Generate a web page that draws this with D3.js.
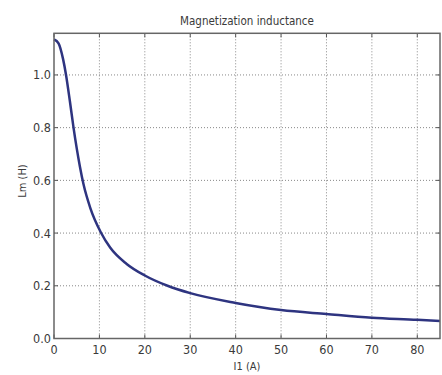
<!DOCTYPE html>
<html><head><meta charset="utf-8">
<script src="https://cdn.jsdelivr.net/npm/d3@7"></script>
<style>
body{margin:0;background:#fff;}
text{font-family:"DejaVu Sans Condensed","Liberation Sans Narrow",sans-serif;fill:#3a3a3a;}
</style></head>
<body><svg id="c" width="442" height="375"></svg>
<script>
const current = [0, 1, 2, 2.65, 3.5, 4.3, 5.7, 6.5, 8, 10.3, 12.4, 16, 20, 25, 30, 40, 50, 60, 70, 80, 85];
const inductance = [1.135, 1.12, 1.06, 1.0, 0.9, 0.8, 0.653, 0.585, 0.495, 0.403, 0.344, 0.283, 0.239, 0.2, 0.172, 0.135, 0.108, 0.093, 0.079, 0.071, 0.066];
const xTicks = [0, 10, 20, 30, 40, 50, 60, 70, 80];
const yTicks = [0, 0.2, 0.4, 0.6, 0.8, 1.0];
const title = "Magnetization inductance";
const xLabel = "I1 (A)";
const yLabel = "Lm (H)";

const L = 54, R = 440, T = 33.3, B = 338.5;
const svg = d3.select("#c");
const x = d3.scaleLinear().domain([0, 85]).range([L, R]);
const y = d3.scaleLinear().domain([0, 1.158]).range([B, T]);

// grid
const g = svg.append("g");
g.selectAll("line.vx").data(xTicks.slice(1)).enter().append("line")
  .attr("x1", d => x(d)).attr("x2", d => x(d)).attr("y1", T).attr("y2", B)
  .attr("stroke", "#888").attr("stroke-width", 1).attr("stroke-dasharray", "1,2");
g.selectAll("line.hy").data(yTicks.slice(1)).enter().append("line")
  .attr("y1", d => y(d)).attr("y2", d => y(d)).attr("x1", L).attr("x2", R)
  .attr("stroke", "#888").attr("stroke-width", 1).attr("stroke-dasharray", "1,2");

// inner ticks
const tl = 4;
xTicks.forEach(d => {
  svg.append("line").attr("x1", x(d)).attr("x2", x(d)).attr("y1", B).attr("y2", B - tl).attr("stroke", "#555");
  svg.append("line").attr("x1", x(d)).attr("x2", x(d)).attr("y1", T).attr("y2", T + tl).attr("stroke", "#555");
});
yTicks.forEach(d => {
  svg.append("line").attr("y1", y(d)).attr("y2", y(d)).attr("x1", L).attr("x2", L + tl).attr("stroke", "#555");
  svg.append("line").attr("y1", y(d)).attr("y2", y(d)).attr("x1", R).attr("x2", R - tl).attr("stroke", "#555");
});

// curve
const line = d3.line().x((d, i) => x(current[i])).y((d, i) => y(inductance[i])).curve(d3.curveMonotoneX);
svg.append("path").datum(inductance).attr("d", line)
  .attr("fill", "none").attr("stroke", "#2e3480").attr("stroke-width", 2.5);

// frame
svg.append("rect").attr("x", L).attr("y", T).attr("width", R - L).attr("height", B - T)
  .attr("fill", "none").attr("stroke", "#666").attr("stroke-width", 1.5);

// tick labels
svg.selectAll("text.xt").data(xTicks).enter().append("text")
  .attr("x", d => x(d)).attr("y", B + 15).attr("text-anchor", "middle")
  .attr("font-size", 12.5).text(d => d);
svg.selectAll("text.yt").data(yTicks).enter().append("text")
  .attr("x", L - 3).attr("y", d => y(d) + 4.5).attr("text-anchor", "end")
  .attr("font-size", 12.5).text(d => d.toFixed(1));

// titles
svg.append("text").attr("x", (L + R) / 2).attr("y", 25).attr("text-anchor", "middle")
  .attr("font-size", 11.5).text(title);
svg.append("text").attr("x", (L + R) / 2).attr("y", 370).attr("text-anchor", "middle")
  .attr("font-size", 11).text(xLabel);
svg.append("text").attr("transform", "translate(26,181) rotate(-90)").attr("text-anchor", "middle")
  .attr("font-size", 11).text(yLabel);
</script></body></html>
